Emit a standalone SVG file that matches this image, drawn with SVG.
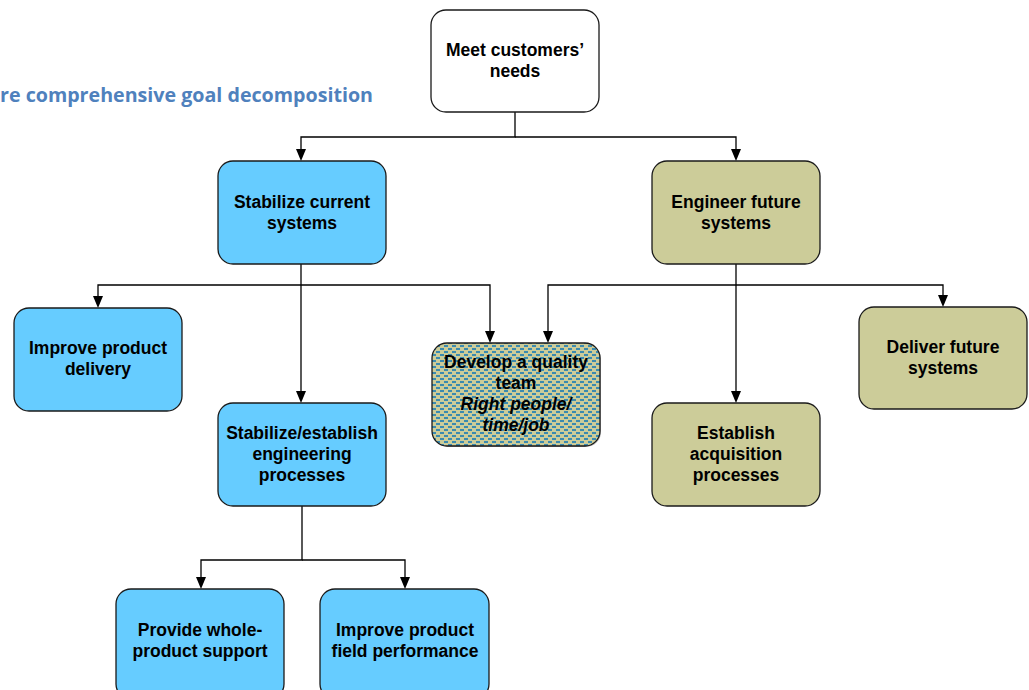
<svg xmlns="http://www.w3.org/2000/svg" width="1029" height="690" viewBox="0 0 1029 690">
<style>
.n{stroke:#1a1a1a;stroke-width:1.3}
.w{fill:#ffffff}
.b{fill:#66CCFF}
.k{fill:#CCCC99}
.t{font-family:"Liberation Sans",Arial,sans-serif;font-weight:bold;font-size:17.5px;fill:#000;text-anchor:middle}
.i{font-style:italic}
.c{fill:none;stroke:#000;stroke-width:1.3}
.title{font-family:"Open Sans","Noto Sans",sans-serif;font-weight:bold;font-size:19.5px;fill:#4F81BD}
</style>
<defs>
<pattern id="dots" width="8" height="6" patternUnits="userSpaceOnUse">
<rect width="8" height="6" fill="#CCCC99"/>
<rect x="0" y="0" width="4" height="2" fill="#3A8AB0"/>
<rect x="4" y="3" width="4" height="2" fill="#3A8AB0"/>
</pattern>
</defs>
<rect width="1029" height="690" fill="#ffffff"/>
<text class="title" x="0" y="102" textLength="373" lengthAdjust="spacingAndGlyphs">re comprehensive goal decomposition</text>
<g id="connectors">
<path class="c" d="M515,112 V137 H301 V149"/>
<path class="c" d="M515,137 H736 V149"/>
<path class="c" d="M301,264 V391"/>
<path class="c" d="M301,285 H98 V296"/>
<path class="c" d="M301,285 H490 V331"/>
<path class="c" d="M736,264 V391"/>
<path class="c" d="M736,285 H548 V331"/>
<path class="c" d="M736,285 H943 V295"/>
<path class="c" d="M302,506 V560 H201 V577"/>
<path class="c" d="M302,560 H405 V577"/>
<g fill="#000">
<path d="M296,149 L306,149 L301,161 Z"/>
<path d="M731,149 L741,149 L736,161 Z"/>
<path d="M296,391 L306,391 L301,403 Z"/>
<path d="M93,296 L103,296 L98,308 Z"/>
<path d="M485,331 L495,331 L490,343 Z"/>
<path d="M731,391 L741,391 L736,403 Z"/>
<path d="M543,331 L553,331 L548,343 Z"/>
<path d="M938,295 L948,295 L943,307 Z"/>
<path d="M196,577 L206,577 L201,589 Z"/>
<path d="M400,577 L410,577 L405,589 Z"/>
</g>
</g>
<g id="meet">
<rect class="n w" x="431" y="10" width="168" height="102" rx="15"/>
<text class="t" x="515" y="56">Meet customers’</text>
<text class="t" x="515" y="77">needs</text>
</g>
<g id="stabilize">
<rect class="n b" x="218" y="161" width="168" height="103" rx="15"/>
<text class="t" x="302" y="208">Stabilize current</text>
<text class="t" x="302" y="229">systems</text>
</g>
<g id="engineer">
<rect class="n k" x="652" y="161" width="168" height="103" rx="15"/>
<text class="t" x="736" y="208">Engineer future</text>
<text class="t" x="736" y="229">systems</text>
</g>
<g id="delivery">
<rect class="n b" x="14" y="308" width="168" height="103" rx="15"/>
<text class="t" x="98" y="354">Improve product</text>
<text class="t" x="98" y="375">delivery</text>
</g>
<g id="quality">
<rect x="433" y="344" width="168" height="103" rx="15" fill="#555" opacity="0.4"/>
<rect class="n" x="432" y="343" width="168" height="103" rx="15" fill="url(#dots)"/>
<text class="t" x="516" y="368">Develop a quality</text>
<text class="t" x="516" y="389">team</text>
<text class="t i" x="516" y="410">Right people/</text>
<text class="t i" x="516" y="431">time/job</text>
</g>
<g id="deliverfuture">
<rect class="n k" x="859" y="307" width="168" height="102" rx="15"/>
<text class="t" x="943" y="353">Deliver future</text>
<text class="t" x="943" y="374">systems</text>
</g>
<g id="engproc">
<rect class="n b" x="218" y="403" width="168" height="103" rx="15"/>
<text class="t" x="302" y="439">Stabilize/establish</text>
<text class="t" x="302" y="460">engineering</text>
<text class="t" x="302" y="481">processes</text>
</g>
<g id="acq">
<rect class="n k" x="652" y="403" width="168" height="103" rx="15"/>
<text class="t" x="736" y="439">Establish</text>
<text class="t" x="736" y="460">acquisition</text>
<text class="t" x="736" y="481">processes</text>
</g>
<g id="support">
<rect class="n b" x="116" y="589" width="168" height="110" rx="15"/>
<text class="t" x="200" y="636">Provide whole-</text>
<text class="t" x="200" y="657">product support</text>
</g>
<g id="field">
<rect class="n b" x="320" y="589" width="169" height="110" rx="15"/>
<text class="t" x="405" y="636">Improve product</text>
<text class="t" x="405" y="657">field performance</text>
</g>
</svg>
